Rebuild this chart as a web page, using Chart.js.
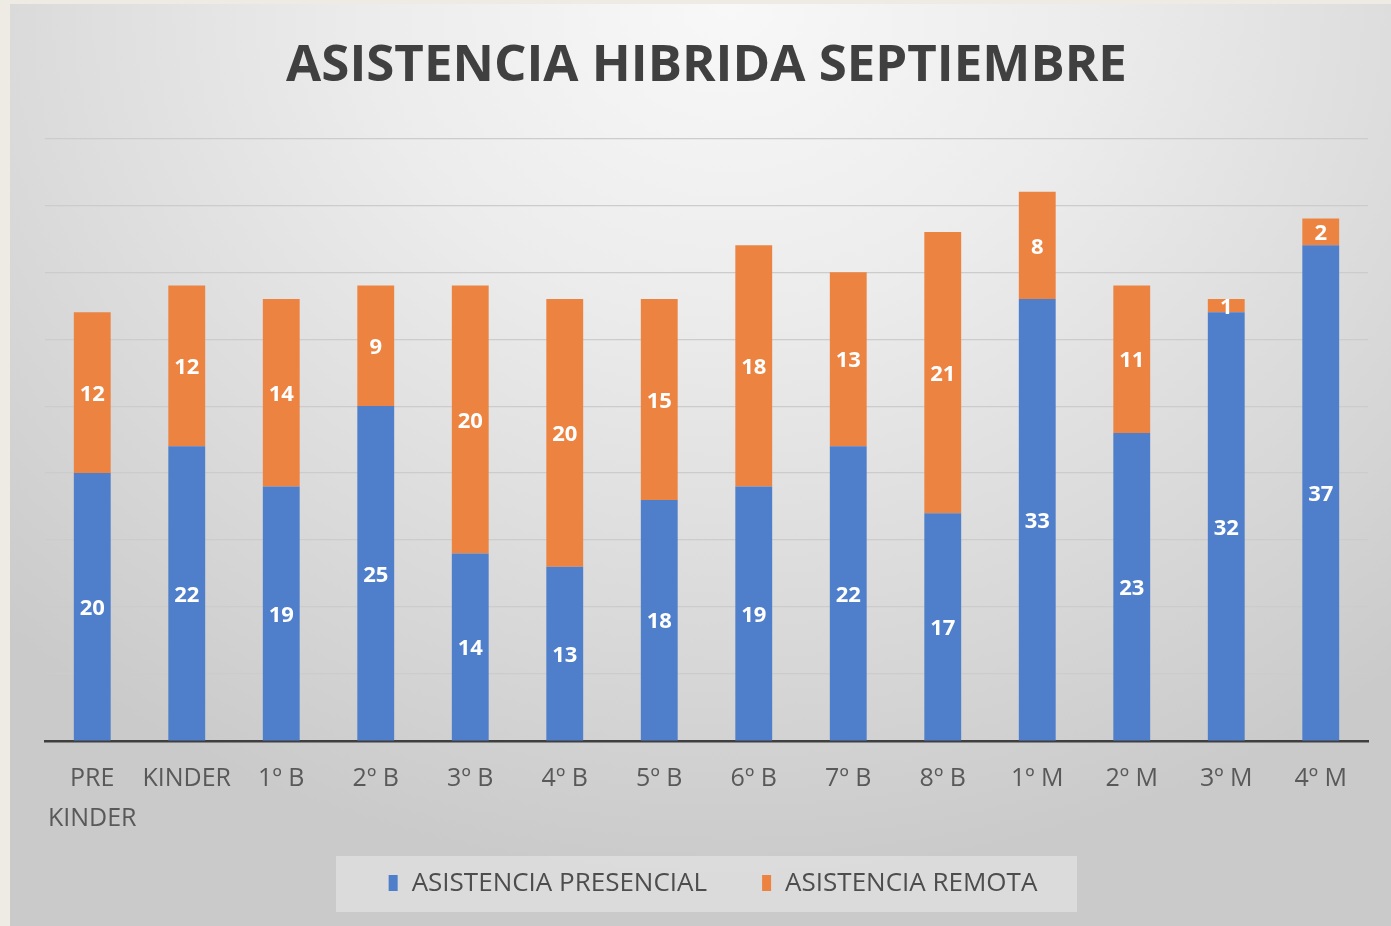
<!DOCTYPE html>
<html>
<head>
<meta charset="utf-8">
<script src="https://cdn.jsdelivr.net/npm/chart.js@4/dist/chart.umd.min.js"></script>
<style>
  html, body { margin: 0; padding: 0; width: 1391px; height: 926px; background: #eeebe4; overflow: hidden; }
  #wrap {
    position: absolute; left: 10px; top: 4px; width: 1381px; height: 922px;
    background: radial-gradient(ellipse 75% 95% at 52% 0%, #f8f8f8 0%, #ececec 35%, #dadada 70%, #cacaca 100%);
  }
  canvas { display: block; }
</style>
</head>
<body>
<div id="wrap"><canvas id="c" width="1381" height="922"></canvas></div>
<script>
const categories = [["PRE", "KINDER"], "KINDER", "1º B", "2º B", "3º B", "4º B", "5º B", "6º B", "7º B", "8º B", "1º M", "2º M", "3º M", "4º M"];
const presencial = [20, 22, 19, 25, 14, 13, 18, 19, 22, 17, 33, 23, 32, 37];
const remota = [12, 12, 14, 9, 20, 20, 15, 18, 13, 21, 8, 11, 1, 2];
const seriesNames = ["ASISTENCIA PRESENCIAL", "ASISTENCIA REMOTA"];
const seriesColors = ['#4f7fcb', '#ec8340'];
const chartTitle = "ASISTENCIA HIBRIDA SEPTIEMBRE";

const labelPlugin = {
  id: 'segLabels',
  afterDatasetsDraw(chart) {
    const ctx = chart.ctx;
    ctx.save();
    ctx.font = 'bold 22px "Open Sans"';
    ctx.fillStyle = '#ffffff';
    ctx.textAlign = 'center';
    ctx.textBaseline = 'middle';
    chart.data.datasets.forEach((ds, di) => {
      const meta = chart.getDatasetMeta(di);
      meta.data.forEach((bar, i) => {
        const v = ds.data[i];
        const yc = (bar.y + bar.base) / 2 + 2;
        ctx.fillText(String(v), bar.x, yc);
      });
    });
    ctx.restore();
  }
};

// Legend drawn in a plugin, with a light panel behind it
const legendPlugin = {
  id: 'customLegend',
  afterDraw(chart) {
    const ctx = chart.ctx;
    ctx.save();
    ctx.fillStyle = 'rgba(255,255,255,0.33)';
    ctx.fillRect(326, 852, 741, 56);
    ctx.font = '26px "Open Sans"';
    ctx.textBaseline = 'middle';
    ctx.textAlign = 'left';
    const ds = chart.data.datasets;
    const sq = 9, gap = 14, itemGap = 55;
    const widths = ds.map(d => ctx.measureText(d.label).width);
    let total = 0;
    widths.forEach((w, i) => { total += sq + gap + w + (i < widths.length - 1 ? itemGap : 0); });
    let x = 703 - total / 2;
    const cy = 879;
    ds.forEach((d, i) => {
      ctx.fillStyle = d.backgroundColor;
      ctx.fillRect(x, cy - 8, sq, 16);
      ctx.fillStyle = '#4d4d4d';
      ctx.fillText(d.label, x + sq + gap, cy + 1);
      x += sq + gap + widths[i] + itemGap;
    });
    ctx.restore();
  }
};

new Chart(document.getElementById('c'), {
  type: 'bar',
  data: {
    labels: categories,
    datasets: [
      { label: seriesNames[0], data: presencial, backgroundColor: seriesColors[0], borderWidth: 0 },
      { label: seriesNames[1], data: remota, backgroundColor: seriesColors[1], borderWidth: 0 }
    ]
  },
  options: {
    responsive: false,
    animation: false,
    layout: { padding: { left: 35, right: 23, top: 0, bottom: 85 } },
    datasets: { bar: { categoryPercentage: 1.0, barPercentage: 0.39 } },
    scales: {
      x: {
        stacked: true,
        afterFit(scale) { scale.height = 100; },
        grid: { display: false, drawTicks: false },
        border: { display: true, color: '#3f3f3f', width: 2.5 },
        ticks: { color: '#595959', font: { family: 'Open Sans', size: 25, lineHeight: 1.6 }, padding: 18, maxRotation: 0, autoSkip: false }
      },
      y: {
        stacked: true,
        min: 0, max: 45,
        afterFit(scale) { scale.width = 0; },
        grid: { color: '#cccccc', lineWidth: 1.2, drawTicks: false },
        border: { display: false },
        ticks: { display: false, stepSize: 5 }
      }
    },
    plugins: {
      title: {
        display: true, text: chartTitle, color: '#404040',
        font: { family: 'Open Sans', weight: 'bold', size: 51, lineHeight: 1.2 },
        padding: { top: 32, bottom: 41 }
      },
      legend: { display: false },
      tooltip: { enabled: false }
    }
  },
  plugins: [labelPlugin, legendPlugin]
});
</script>
</body>
</html>
